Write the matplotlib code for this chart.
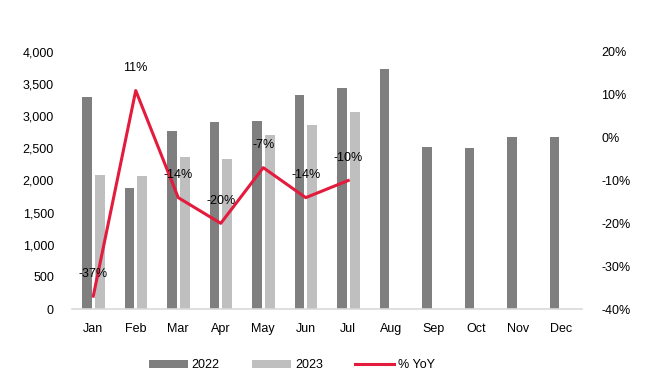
import matplotlib
matplotlib.use("Agg")
import matplotlib.pyplot as plt
import numpy as np
from matplotlib.ticker import FuncFormatter

months = ["Jan", "Feb", "Mar", "Apr", "May", "Jun", "Jul", "Aug", "Sep", "Oct", "Nov", "Dec"]
sales_2022 = [3300, 1880, 2770, 2910, 2920, 3330, 3440, 3730, 2520, 2510, 2680, 2670]
sales_2023 = [2085, 2075, 2365, 2335, 2710, 2865, 3070]
yoy = [-37, 11, -14, -20, -7, -14, -10]
yoy_labels = ["-37%", "11%", "-14%", "-20%", "-7%", "-14%", "-10%"]

plt.rcParams['font.family'] = ['Liberation Sans', 'DejaVu Sans']
fs = 9

fig = plt.figure(figsize=(6.49, 3.85), dpi=100)
ax = fig.add_axes([72/649, 1-309/385, 510/649, 257/385])
x = np.arange(len(months))
w = 0.23
c22 = "#7f7f7f"
c23 = "#bfbfbf"
red = "#e31b3d"
ax.bar(x - 0.145, sales_2022, width=w, color=c22, label="2022", zorder=2)
ax.bar(x[:len(sales_2023)] + 0.155, sales_2023, width=w, color=c23, label="2023", zorder=2)
ax.set_ylim(0, 4000)
ax.set_yticks(np.arange(0, 4001, 500))
ax.yaxis.set_major_formatter(FuncFormatter(lambda v, p: f"{int(v):,}"))
ax.set_xlim(-0.5, 11.5)
ax.set_xticks(x)
ax.set_xticklabels(months)
for s in ["top", "right", "left"]:
    ax.spines[s].set_visible(False)
ax.spines["bottom"].set_color("#d9d9d9")
ax.spines["bottom"].set_linewidth(1.2)
ax.tick_params(axis="both", length=0, labelsize=fs, colors="#000000")
ax.tick_params(axis="y", pad=13)
ax.tick_params(axis="x", pad=10)

ax2 = ax.twinx()
ax2.plot(x[:len(yoy)], yoy, color=red, lw=2.2, label="% YoY", zorder=3)
ax2.set_ylim(-40, 20)
ax2.set_yticks(np.arange(-40, 21, 10))
ax2.yaxis.set_major_formatter(FuncFormatter(lambda v, p: f"{int(v)}%"))
for s in ["top", "right", "left", "bottom"]:
    ax2.spines[s].set_visible(False)
ax2.tick_params(axis="y", length=0, labelsize=fs, pad=14)
for xi, yi, lab in zip(x, yoy, yoy_labels):
    ax2.annotate(lab, (xi, yi), xytext=(0, 16), textcoords="offset points",
                 ha="center", va="center", fontsize=fs, zorder=4)

h1, l1 = ax.get_legend_handles_labels()
h2, l2 = ax2.get_legend_handles_labels()
fig.legend(h1 + h2, l1 + l2, loc="center", bbox_to_anchor=(292/649, 1-365/385), ncol=3,
           frameon=False, fontsize=fs, handlelength=3.1, handleheight=0.6,
           columnspacing=2.6, handletextpad=0.3)

fig.savefig("out.png", dpi=100)
